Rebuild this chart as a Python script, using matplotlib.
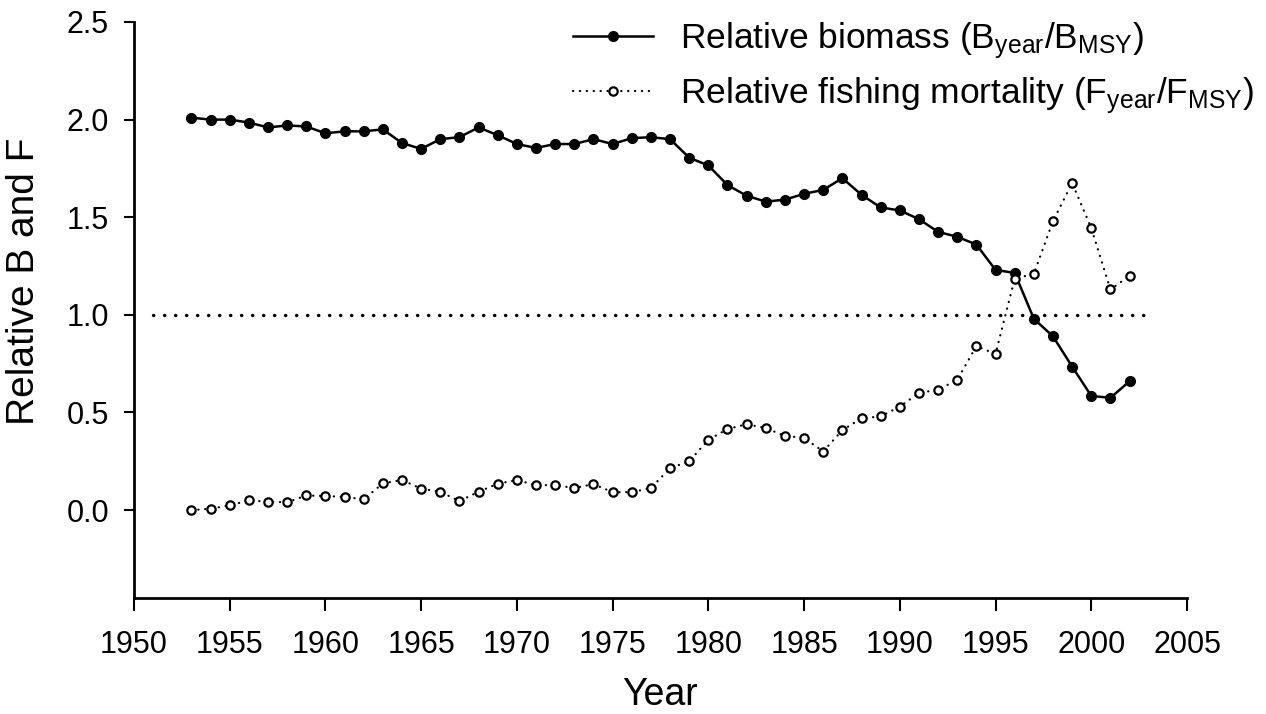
import matplotlib
matplotlib.use("Agg")
import matplotlib.pyplot as plt

plt.rcParams['font.family'] = ['Liberation Sans', 'DejaVu Sans']
plt.rcParams['mathtext.fontset'] = 'custom'
plt.rcParams['mathtext.rm'] = 'Liberation Sans'

years = list(range(1953, 2003))

# B_year / B_MSY
rel_biomass = [2.01, 2.00, 2.00, 1.985, 1.96, 1.97, 1.965, 1.93, 1.94, 1.94,
               1.95, 1.88, 1.85, 1.90, 1.91, 1.96, 1.92, 1.875, 1.855, 1.875,
               1.875, 1.90, 1.875, 1.905, 1.91, 1.90, 1.805, 1.765, 1.665, 1.61,
               1.58, 1.59, 1.62, 1.64, 1.70, 1.615, 1.55, 1.535, 1.49, 1.425,
               1.40, 1.36, 1.23, 1.215, 0.98, 0.89, 0.735, 0.585, 0.575, 0.66]

# F_year / F_MSY
rel_fmort = [0.00, 0.007, 0.024, 0.05, 0.043, 0.04, 0.075, 0.072, 0.068, 0.055,
             0.137, 0.154, 0.11, 0.094, 0.046, 0.094, 0.135, 0.154, 0.128, 0.128,
             0.113, 0.133, 0.092, 0.092, 0.113, 0.215, 0.25, 0.36, 0.415, 0.44,
             0.42, 0.38, 0.37, 0.30, 0.41, 0.47, 0.48, 0.53, 0.60, 0.617,
             0.667, 0.84, 0.80, 1.185, 1.21, 1.48, 1.675, 1.445, 1.13, 1.20]

ref_years = [1951, 2003]
ref_level = [1.0, 1.0]

fig = plt.figure(figsize=(12.66, 7.14), dpi=100)
ax = fig.add_axes([0.1058, 0.1625, 0.8318, 0.8067])

# MSY reference line
ax.plot(ref_years, ref_level, color='black', linewidth=2.4,
        linestyle=(0, (0.1, 3.2)), dash_capstyle='round')

ax.plot(years, rel_biomass, color='black', linewidth=1.8, marker='o',
        markersize=7, markerfacecolor='black',
        label=r'Relative biomass ($\mathregular{B_{year}/B_{MSY}}$)')
ax.plot(years, rel_fmort, color='black', linewidth=1.6,
        linestyle=(0, (0.1, 3.0)), dash_capstyle='round', marker='o',
        markersize=6, markerfacecolor='white', markeredgewidth=1.6,
        label=r'Relative fishing mortality ($\mathregular{F_{year}/F_{MSY}}$)')

ax.set_xlim(1950, 2005)
ax.set_ylim(-0.45, 2.5)
ax.set_xticks(range(1950, 2006, 5))
ax.set_yticks([0.0, 0.5, 1.0, 1.5, 2.0, 2.5])
ax.set_yticklabels(['0.0', '0.5', '1.0', '1.5', '2.0', '2.5'])

for side in ['top', 'right']:
    ax.spines[side].set_visible(False)
for side in ['left', 'bottom']:
    ax.spines[side].set_linewidth(2)

ax.tick_params(axis='x', direction='out', length=9, width=1.5, pad=14, labelsize=22)
ax.tick_params(axis='y', direction='out', length=7, width=1.5, pad=11, labelsize=22)

ax.set_xlabel('Year', fontsize=27)
ax.xaxis.set_label_coords(0.5, -0.137)
ax.set_ylabel('Relative B and F', fontsize=28)
ax.yaxis.set_label_coords(-0.087, 0.55)

ax.legend(loc='upper right', bbox_to_anchor=(1.094, 1.058), frameon=False,
          fontsize=25.5, handlelength=2.26, handletextpad=0.76, labelspacing=0.4,
          numpoints=1)

plt.savefig('out.png', dpi=100)
plt.close()
